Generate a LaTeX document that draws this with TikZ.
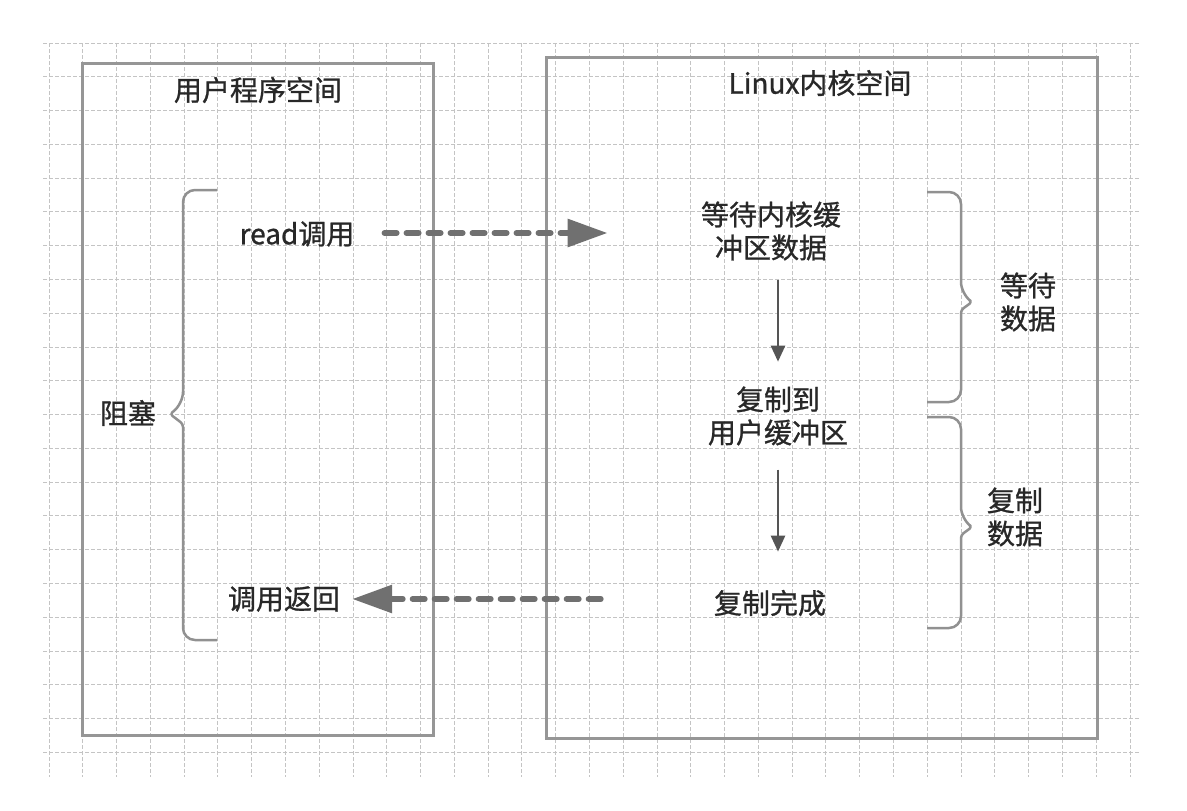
\documentclass[tikz,border=0pt]{standalone}
\usepackage{fontspec}
\setmainfont{Noto Sans CJK SC}[UprightFeatures={FakeBold=0.9}]
\usetikzlibrary{arrows.meta}
\definecolor{gridc}{RGB}{196,196,196}
\definecolor{boxc}{RGB}{150,150,150}
\definecolor{bracec}{RGB}{145,145,145}
\definecolor{arrc}{RGB}{112,112,112}
\definecolor{darrc}{RGB}{85,85,85}
\definecolor{txtc}{RGB}{40,40,40}
\begin{document}
\begin{tikzpicture}[x=1pt,y=-1pt,
  lbl/.style={font=\fontsize{28}{33}\selectfont, text=txtc, inner sep=0pt, align=center},
  frame/.style={draw=boxc, line width=3pt, inner sep=0pt},
  brace/.style={draw=bracec, line width=2.5pt, line join=round},
  flow/.style={draw=arrc, line width=6pt, dash pattern=on 12pt off 10pt, line cap=round},
  bigtip/.style={arrows={-{Triangle[length=40pt,width=27pt,fill=arrc]}}},
  bigtipback/.style={arrows={{Triangle[length=40pt,width=27pt,fill=arrc]}-}},
  downarrow/.style={draw=darrc, line width=2.5pt, -{Triangle[length=16pt,width=14pt]}},
  gridline/.style={draw=gridc, line width=0.9pt, dash pattern=on 4pt off 2pt}]
\useasboundingbox (0,0) rectangle (1187,811);
\fill[white] (0,0) rectangle (1187,811);
% background grid
\foreach \k in {0,...,32} \draw[gridline] ({49+33.78*\k},43) -- ({49+33.78*\k},777);
\foreach \k in {0,...,21} \draw[gridline] (43,{43+33.78*\k}) -- (1140,{43+33.78*\k});
% frames
\node[frame, minimum width=351pt, minimum height=672pt] (user) at (257.5,399) {};
\node[frame, minimum width=551pt, minimum height=681pt] (kern) at (821.5,397.5) {};
% titles
\node[lbl] (usert) at (258,90) {用户程序空间};
\node[lbl] (kernt) at (820,83) {Linux内核空间};
% labels
\node[lbl] (read) at (297,234) {read调用};
\node[lbl] (wait) at (771,231) {等待内核缓\\冲区数据};
\node[lbl] (copy) at (778,416) {复制到\\用户缓冲区};
\node[lbl] (done) at (770,603) {复制完成};
\node[lbl] (ret) at (284,599) {调用返回};
\node[lbl] (block) at (128,413) {阻塞};
\node[lbl] (waitd) at (1028,302) {等待\\数据};
\node[lbl] (copyd) at (1015,517) {复制\\数据};
% dashed flow arrows
\draw[flow, bigtip] (read.east) ++(30,-1) -- ++(223,0);
\draw[flow, bigtipback] (ret.east) ++(12,0) -- ++(250,0);
% vertical arrows
\draw[downarrow] (wait.south -| copy.north) ++(0,19) -- ++(0,82);
\draw[downarrow] (copy.south) ++(0,24) -- ++(0,82);
% braces
\draw[brace] (217,190) [rounded corners=12pt] -- (183,190) -- (183,404) [rounded corners=3pt] -- (170,414) -- (183,424) [rounded corners=12pt] -- (183,640) -- (217,640);
\draw[brace] (927,192) [rounded corners=12pt] -- (961,192) -- (961,294) [rounded corners=3pt] -- (972,302) -- (961,310) [rounded corners=12pt] -- (961,402) -- (927,402);
\draw[brace] (927,417) [rounded corners=12pt] -- (961,417) -- (961,519) [rounded corners=3pt] -- (972,527) -- (961,535) [rounded corners=12pt] -- (961,628) -- (927,628);
\end{tikzpicture}
\end{document}
